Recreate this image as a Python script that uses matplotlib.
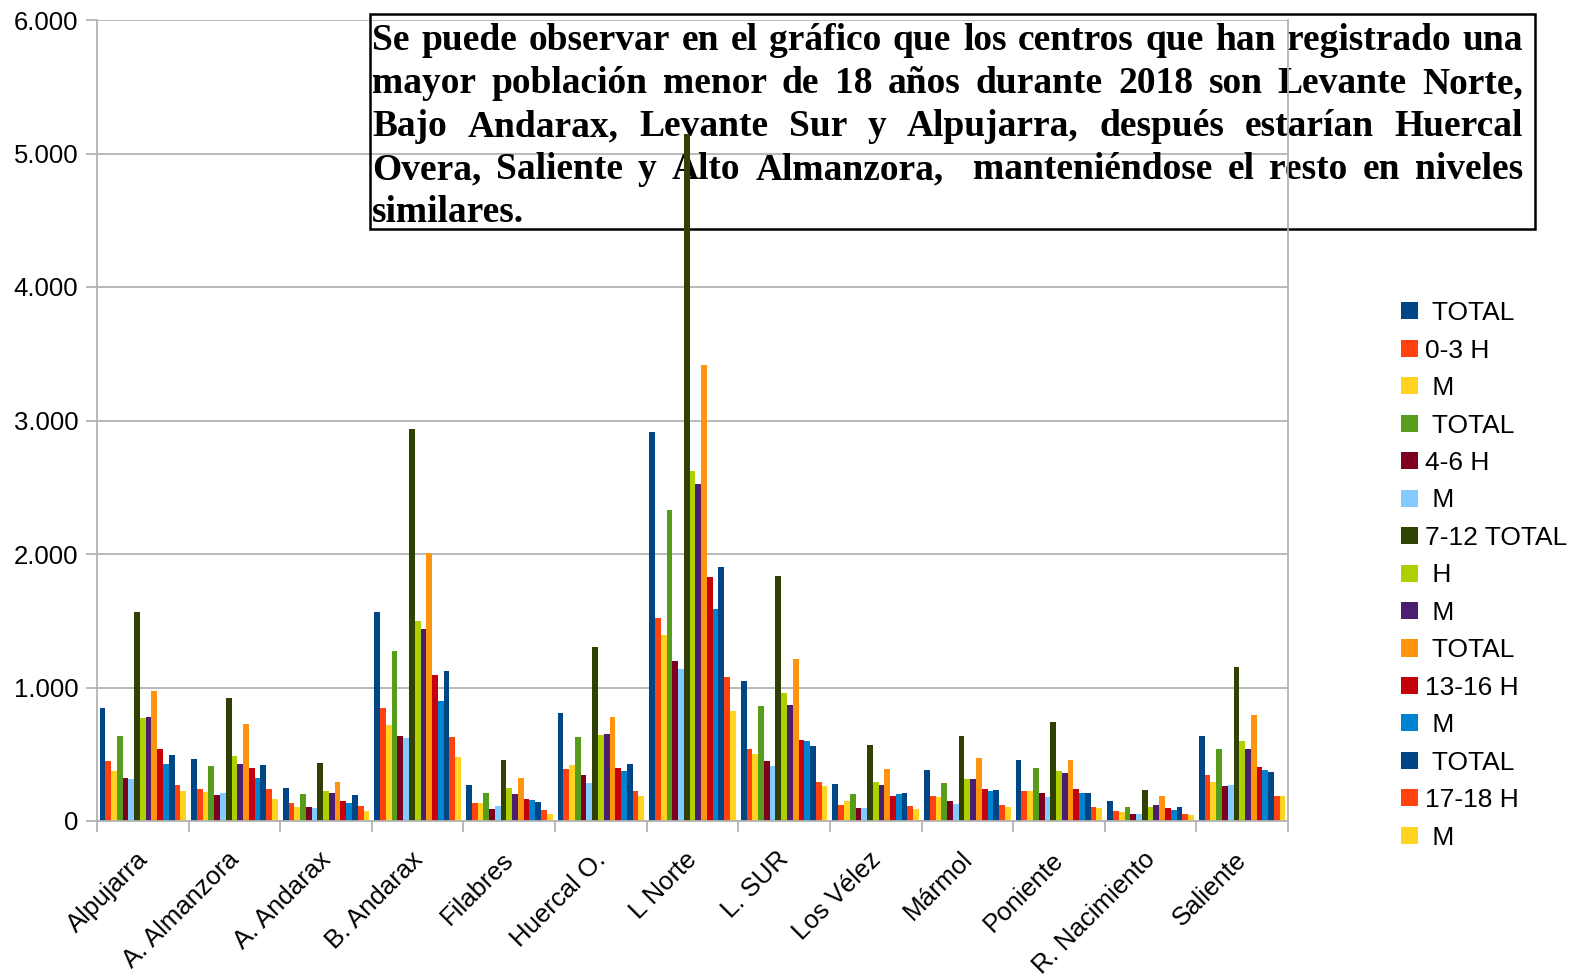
import numpy as np
import matplotlib
matplotlib.use("Agg")
import matplotlib.pyplot as plt
from matplotlib.patches import Rectangle, Patch
from matplotlib.ticker import FuncFormatter, FixedLocator
from matplotlib.transforms import ScaledTranslation

# datos
centros = ["Alpujarra", "A. Almanzora", "A. Andarax", "B. Andarax", "Filabres",
           "Huercal O.", "L Norte", "L. SUR", "Los Vélez", "Mármol", "Poniente",
           "R. Nacimiento", "Saliente"]

series = [" TOTAL", "0-3 H", " M", " TOTAL", "4-6 H", " M", "7-12 TOTAL", " H", " M",
          " TOTAL", "13-16 H", " M", " TOTAL", "17-18 H", " M"]

total_0_3 = [845, 467, 250, 1562, 272, 812, 2911, 1045, 280, 385, 460, 152, 640]
h_0_3 = [452, 242, 137, 845, 137, 392, 1519, 542, 122, 190, 227, 77, 347]
m_0_3 = [377, 220, 107, 722, 137, 422, 1392, 505, 152, 182, 227, 70, 295]
total_4_6 = [640, 415, 205, 1270, 212, 632, 2326, 865, 205, 287, 400, 107, 542]
h_4_6 = [325, 197, 107, 640, 92, 347, 1196, 452, 100, 152, 212, 55, 265]
m_4_6 = [317, 212, 100, 625, 115, 287, 1137, 415, 100, 130, 182, 55, 272]
total_7_12 = [1562, 925, 437, 2935, 460, 1307, 5148, 1832, 572, 640, 745, 235, 1150]
h_7_12 = [775, 490, 227, 1495, 250, 647, 2625, 962, 295, 317, 377, 107, 602]
m_7_12 = [782, 430, 212, 1435, 205, 655, 2522, 872, 272, 317, 362, 122, 542]
total_13_16 = [977, 730, 295, 2005, 325, 782, 3412, 1217, 392, 475, 460, 190, 797]
h_13_16 = [542, 400, 152, 1097, 167, 400, 1825, 610, 190, 242, 242, 100, 407]
m_13_16 = [430, 325, 137, 902, 160, 377, 1588, 602, 205, 227, 212, 85, 385]
total_17_18 = [497, 422, 197, 1120, 145, 430, 1900, 565, 212, 235, 212, 107, 370]
h_17_18 = [272, 242, 115, 632, 85, 227, 1076, 295, 115, 122, 107, 55, 190]
m_17_18 = [227, 167, 77, 482, 55, 190, 821, 265, 92, 107, 100, 47, 185]

valores = [total_0_3, h_0_3, m_0_3, total_4_6, h_4_6, m_4_6, total_7_12, h_7_12,
           m_7_12, total_13_16, h_13_16, m_13_16, total_17_18, h_17_18, m_17_18]

colores = ["#004586", "#ff420e", "#ffd320", "#579d1c", "#7e0021", "#83caff",
           "#314004", "#aecf00", "#4b1f6f", "#ff950e", "#c5000b", "#0084d1",
           "#004586", "#ff420e", "#ffd320"]

texto = ["Se puede observar en el gráfico que los centros que han registrado una",
         "mayor población menor de 18 años durante 2018 son Levante Norte,",
         "Bajo Andarax, Levante Sur y Alpujarra, después estarían Huercal",
         "Overa, Saliente y Alto Almanzora,  manteniéndose el resto en niveles",
         "similares."]

W, H = 1581, 977
gris = "#b3b3b3"
plt.rcParams['font.family'] = ['Liberation Sans', 'DejaVu Sans']

fig = plt.figure(figsize=(W / 100, H / 100), dpi=100)
ax = fig.add_axes([97 / W, 1 - 821 / H, (1288 - 97) / W, (821 - 20) / H])

n = len(valores)
x = np.arange(len(centros))
ancho = 0.945 / n
for i, v in enumerate(valores):
    ax.bar(x - 0.945 / 2 + ancho * (i + 0.5), v, ancho, color=colores[i], zorder=2)

ax.set_xlim(-0.5, len(centros) - 0.5)
ax.set_ylim(0, 6000)
ax.set_yticks(np.arange(0, 6001, 1000))
ax.yaxis.set_major_formatter(FuncFormatter(lambda v, p: f"{int(v):,}".replace(",", ".")))
ax.yaxis.grid(True, color=gris, linewidth=1.3, zorder=0)
ax.set_axisbelow(True)

ax.set_xticks(x)
ax.set_xticklabels(centros)
ax.xaxis.set_minor_locator(FixedLocator(np.arange(-0.5, len(centros), 1.0)))
ax.tick_params(axis='x', which='major', length=0, pad=25, labelsize=18.5)
ax.tick_params(axis='x', which='minor', length=8, width=1.3, color=gris)
ax.tick_params(axis='y', length=8, width=1.3, color=gris, pad=5.5, labelsize=18.5)

for lab in ax.get_xticklabels():
    lab.set_rotation(45)
    lab.set_rotation_mode('anchor')
    lab.set_ha('right')
    lab.set_va('center')
    lab.set_transform(lab.get_transform() + ScaledTranslation(0.01, 0, fig.dpi_scale_trans))

ax.spines['top'].set_visible(False)
for s in ['left', 'right', 'bottom']:
    ax.spines[s].set_color(gris)
    ax.spines[s].set_linewidth(1.3)

# leyenda
handles = [Patch(facecolor=c) for c in colores]
fig.legend(handles, series, loc='upper left', bbox_to_anchor=(1388 / W, 1 - 288 / H),
           frameon=False, fontsize=19, handlelength=0.62, handleheight=0.62,
           handletextpad=0.3, labelspacing=0.51, borderpad=0)

# cuadro de texto justificado
ax.add_patch(Rectangle((370 / W, 1 - 229 / H), (1535 - 370) / W, (229 - 14) / H,
                       transform=fig.transFigure, fill=False, edgecolor='black',
                       linewidth=1.8, clip_on=False, zorder=1.5))
fig.canvas.draw()
r = fig.canvas.get_renderer()
x0, x1 = 372, 1523
fuente = dict(family='Liberation Serif', weight='bold', size=27)
for k, linea in enumerate(texto):
    yb = 1 - (50 + 43 * k) / H
    palabras = linea.split(' ')
    objs = [ax.text(0, yb, p, transform=fig.transFigure, va='baseline', ha='left',
                    clip_on=False, zorder=1.5, **fuente) for p in palabras]
    anchos = [o.get_window_extent(r).width if p else 0 for o, p in zip(objs, palabras)]
    if k < len(texto) - 1:
        hueco = (x1 - x0 - sum(anchos)) / (len(palabras) - 1)
    else:
        hueco = ax.text(0, 0, ' ', **fuente).get_window_extent(r).width
    pos = x0
    for o, a in zip(objs, anchos):
        o.set_x(pos / W)
        pos += a + hueco

fig.savefig("out.png", dpi=100)
